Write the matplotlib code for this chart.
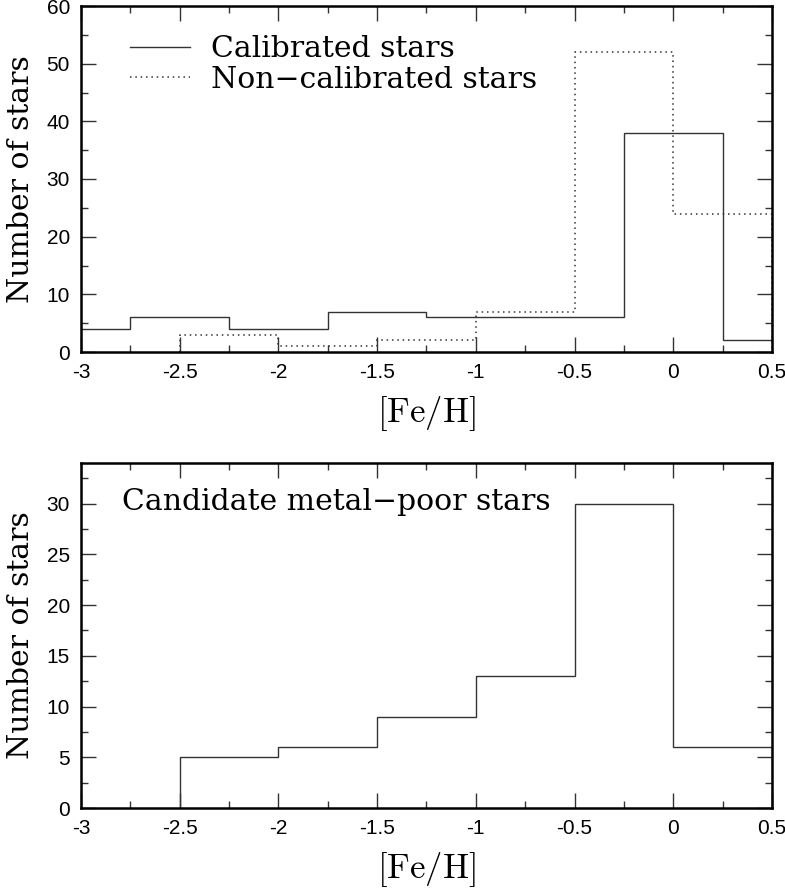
import matplotlib
matplotlib.use("Agg")
import matplotlib.pyplot as plt
from matplotlib.ticker import MultipleLocator
import numpy as np

plt.rcParams['mathtext.fontset'] = 'cm'
plt.rcParams['font.family'] = 'Liberation Sans'

# top panel: calibrated stars (bins shifted by 0.25)
calib_edges = [-3.25, -2.75, -2.25, -1.75, -1.25, -0.75, -0.25, 0.25, 0.75]
calib_counts = [4, 6, 4, 7, 6, 6, 38, 2]
# top panel: non-calibrated stars
noncal_edges = [-2.5, -2.0, -1.5, -1.0, -0.5, 0.0, 0.5]
noncal_counts = [3, 1, 2, 7, 52, 24]
# bottom panel: candidate metal-poor stars
cand_edges = [-2.5, -2.0, -1.5, -1.0, -0.5, 0.0, 0.5]
cand_counts = [5, 6, 9, 13, 30, 6]

xticks = [-3, -2.5, -2, -1.5, -1, -0.5, 0, 0.5]
xticklabels = ['-3', '-2.5', '-2', '-1.5', '-1', '-0.5', '0', '0.5']

serif = 'DejaVu Serif'
line_col = '#333333'
txt_size = 21.5

fig = plt.figure(figsize=(7.85, 8.9), dpi=100)
W, H = 785, 890
ax1 = fig.add_axes([81 / W, 1 - 352 / H, 691 / W, 346 / H])
ax2 = fig.add_axes([81 / W, 1 - 808 / H, 691 / W, 345 / H])


def style(ax, ymax, ymajor, yminor):
    ax.set_xlim(-3, 0.5)
    ax.set_ylim(0, ymax)
    ax.set_xticks(xticks)
    ax.set_xticklabels(xticklabels)
    ax.xaxis.set_minor_locator(MultipleLocator(0.25))
    ax.yaxis.set_major_locator(MultipleLocator(ymajor))
    ax.yaxis.set_minor_locator(MultipleLocator(yminor))
    ax.tick_params(which='both', direction='in', top=True, right=True,
                   width=1.0, color='#333333', labelsize=15)
    ax.tick_params(which='major', length=11)
    ax.tick_params(which='minor', length=5)
    ax.tick_params(axis='x', pad=8)
    ax.tick_params(axis='y', pad=8)
    for s in ax.spines.values():
        s.set_linewidth(1.8)
    ax.set_ylabel('Number of stars', family=serif, fontsize=txt_size)
    ax.yaxis.set_label_coords(-0.066, 0.5)
    ax.set_xlabel(r'$[\mathrm{Fe/H}]$', fontsize=25)
    ax.xaxis.set_label_coords(0.5, -0.121)


ax1.stairs(calib_counts, calib_edges, baseline=None, color=line_col, lw=1.0,
           label='Calibrated stars')
ax1.stairs(noncal_counts, noncal_edges, baseline=0, color=line_col, lw=1.1,
           linestyle=(0, (1, 2.5)), label='Non\u2212calibrated stars')
style(ax1, 60, 10, 5)
ax1.legend(loc='upper left', bbox_to_anchor=((130 - 81) / 691, 0.915),
           frameon=False, borderpad=0, borderaxespad=0, handlelength=2.0,
           handletextpad=0.7, labelspacing=0.08,
           prop={'family': serif, 'size': txt_size})

ax2.stairs(cand_counts, cand_edges, baseline=0, color=line_col, lw=1.0)
style(ax2, 34, 5, 2.5)
ax2.text((122 - 81) / 691, 0.887, 'Candidate metal\u2212poor stars',
         transform=ax2.transAxes, family=serif, fontsize=txt_size, va='center')

fig.savefig('out.png', dpi=100)
